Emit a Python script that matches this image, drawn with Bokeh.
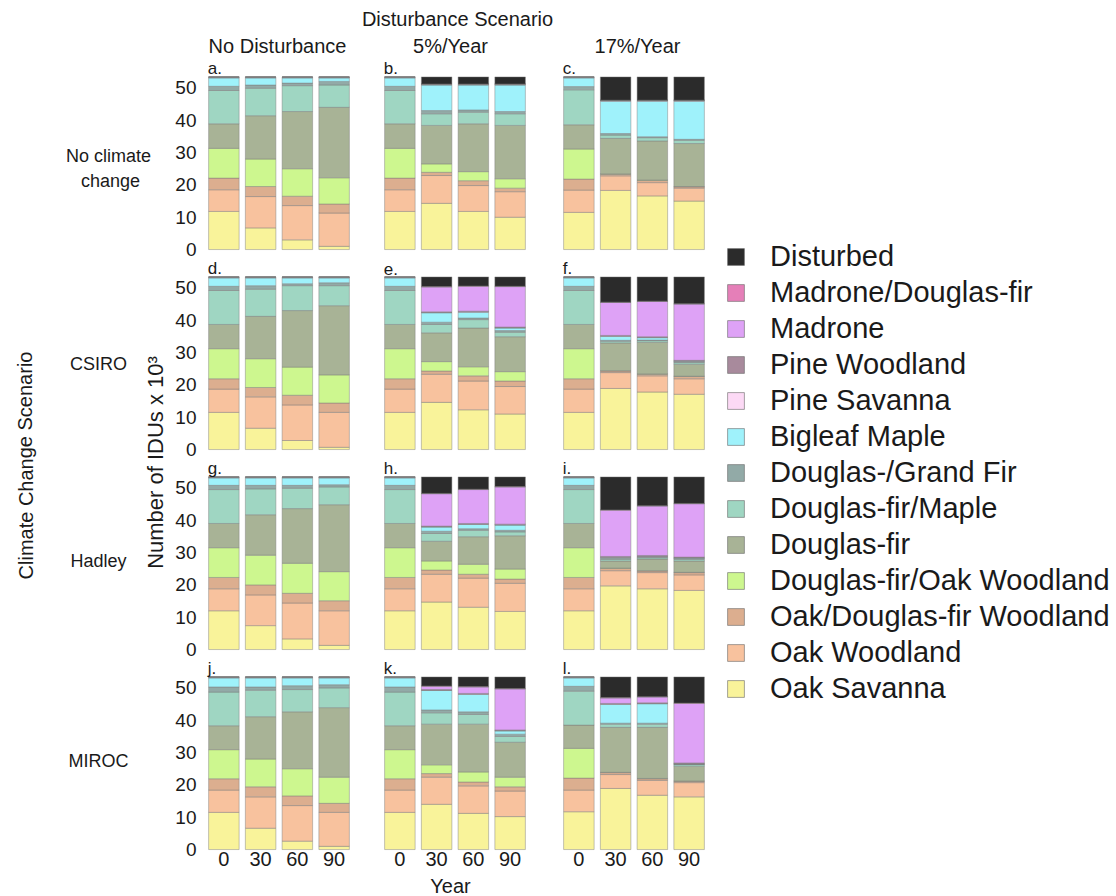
from bokeh.plotting import figure
from bokeh.models import ColumnDataSource, Range1d, FactorRange, FixedTicker, Label, Legend, LegendItem
from bokeh.layouts import row, column
from bokeh.core.properties import value
from bokeh.embed import file_html
from bokeh.resources import INLINE

FONT = "Liberation Sans"
TXT = "#1a1a1a"

years = ["0", "30", "60", "90"]
panel_letters = ["a.", "b.", "c.", "d.", "e.", "f.", "g.", "h.", "i.", "j.", "k.", "l."]
disturbance_scenarios = ["No Disturbance", "5%/Year", "17%/Year"]
climate_scenarios = ["No climate change", "CSIRO", "Hadley", "MIROC"]
y_ticks = [0, 10, 20, 30, 40, 50]

# vegetation classes, bottom of stack to top
classes = ["Oak Savanna", "Oak Woodland", "Oak/Douglas-fir Woodland", "Douglas-fir/Oak Woodland",
           "Douglas-fir", "Douglas-fir/Maple", "Douglas-/Grand Fir", "Bigleaf Maple",
           "Pine Savanna", "Pine Woodland", "Madrone", "Madrone/Douglas-fir", "Disturbed"]
colors = ["#f9f39a", "#f8c29e", "#dcae8f", "#cdf78f",
          "#a8b396", "#9fd6c2", "#92aaa7", "#9ff2fb",
          "#fcd9f5", "#a88a9c", "#dea2f6", "#e57fb8", "#2b2b2b"]

# values (IDUs x 10^3), one list per panel a..l, years 0/30/60/90
oak_savanna = [[11.8, 6.7, 3.0, 1.0], [11.8, 14.3, 11.8, 10.0], [11.5, 18.3, 16.6, 15.0],
               [11.5, 6.6, 2.8, 0.7], [11.5, 14.6, 12.3, 11.0], [11.5, 18.9, 17.8, 17.1],
               [12.0, 7.4, 3.3, 1.3], [12.0, 14.7, 13.1, 11.8], [12.0, 19.7, 18.8, 18.3],
               [11.5, 6.6, 2.6, 1.0], [11.5, 14.0, 11.2, 10.2], [11.7, 18.9, 16.8, 16.3]]
oak_woodland = [[6.7, 9.7, 10.6, 10.3], [6.7, 8.6, 8.0, 7.9], [6.9, 4.5, 4.1, 4.0],
                [7.2, 9.7, 11.0, 10.8], [7.2, 8.7, 8.9, 8.5], [7.2, 4.9, 5.0, 4.8],
                [6.8, 9.5, 11.1, 10.7], [6.8, 8.6, 9.0, 8.7], [6.8, 4.7, 5.0, 4.8],
                [6.9, 9.7, 11.0, 10.5], [6.9, 8.4, 8.5, 7.9], [6.7, 4.3, 4.6, 4.4]]
oak_df_woodland = [[3.6, 3.1, 2.9, 2.8], [3.6, 1.0, 1.5, 1.1], [3.4, 0.5, 0.7, 0.4],
                   [3.2, 2.9, 3.0, 2.9], [3.2, 1.0, 1.6, 1.7], [3.2, 0.5, 0.5, 0.7],
                   [3.5, 3.1, 3.0, 3.1], [3.5, 1.3, 1.2, 1.3], [3.5, 0.7, 0.5, 0.7],
                   [3.5, 3.1, 3.0, 2.8], [3.5, 1.1, 1.2, 1.3], [3.7, 0.6, 0.5, 0.4]]
df_oak_woodland = [[9.2, 8.5, 8.5, 8.1], [9.2, 2.6, 2.8, 2.9], [9.3, 0.1, 0.1, 0.1],
                   [9.3, 8.9, 8.7, 8.7], [9.3, 2.9, 2.8, 2.9], [9.3, 0.1, 0.1, 0.1],
                   [9.2, 9.2, 9.3, 9.0], [9.2, 2.8, 3.1, 3.1], [9.2, 0.1, 0.1, 0.1],
                   [9.0, 8.6, 8.4, 8.1], [9.0, 2.7, 3.1, 3.0], [9.2, 0.1, 0.1, 0.1]]
douglas_fir = [[7.6, 13.4, 17.7, 21.8], [7.6, 11.9, 14.8, 16.5], [7.5, 11.0, 12.1, 13.3],
               [7.5, 13.1, 17.5, 21.4], [7.5, 8.9, 12.0, 10.8], [7.5, 8.6, 9.8, 3.7],
               [7.5, 12.5, 16.9, 20.7], [7.5, 6.1, 8.5, 10.3], [7.5, 2.2, 3.6, 3.5],
               [7.4, 13.1, 17.6, 21.5], [7.4, 12.6, 14.8, 10.8], [7.2, 13.9, 15.8, 4.6]]
df_maple = [[10.3, 8.5, 8.0, 6.9], [10.3, 3.6, 3.6, 3.6], [10.8, 1.0, 1.0, 1.0],
            [10.5, 8.4, 7.7, 6.2], [10.5, 2.6, 2.6, 1.4], [10.5, 0.5, 0.5, 0.5],
            [10.5, 8.0, 6.3, 5.5], [10.5, 2.4, 2.0, 1.2], [10.5, 0.5, 0.4, 0.5],
            [10.4, 8.2, 6.9, 6.1], [10.4, 3.5, 3.0, 1.8], [10.5, 1.0, 1.0, 0.5]]
df_grand_fir = [[1.3, 1.0, 0.8, 1.1], [1.3, 1.0, 0.7, 0.7], [1.0, 0.5, 0.3, 0.3],
                [1.3, 1.1, 0.6, 0.9], [1.3, 0.7, 0.5, 0.5], [1.3, 0.3, 0.2, 0.3],
                [1.3, 1.1, 0.9, 0.7], [1.3, 0.7, 0.5, 0.5], [1.3, 0.5, 0.3, 0.3],
                [1.6, 1.0, 1.2, 1.0], [1.6, 0.9, 0.8, 0.7], [1.5, 0.3, 0.3, 0.2]]
bigleaf_maple = [[2.6, 2.2, 1.6, 1.1], [2.6, 7.9, 7.7, 8.2], [2.7, 10.0, 11.0, 11.8],
                 [2.6, 2.4, 1.8, 1.5], [2.6, 2.9, 1.8, 0.8], [2.6, 1.2, 0.7, 0.1],
                 [2.3, 2.3, 2.3, 2.1], [2.3, 1.3, 1.3, 1.6], [2.3, 0.1, 0.1, 0.1],
                 [2.8, 2.8, 2.4, 2.1], [2.8, 6.0, 5.4, 1.0], [2.6, 5.8, 6.0, 0.0]]
pine_savanna = [[0.1, 0.1, 0.1, 0.1] for _ in range(12)]
pine_woodland = [[0.2, 0.2, 0.2, 0.2] for _ in range(12)]
madrone = [[0, 0, 0, 0], [0, 0, 0, 0], [0, 0, 0, 0],
           [0, 0, 0, 0], [0, 7.7, 7.7, 12.5], [0, 10.2, 10.9, 17.4],
           [0, 0, 0, 0], [0, 10.0, 10.5, 11.5], [0, 14.3, 15.3, 16.5],
           [0, 0, 0, 0], [0, 1.0, 2.0, 12.7], [0, 1.7, 1.8, 18.4]]
madrone_df = [[0, 0, 0, 0], [0, 0, 0, 0], [0, 0, 0, 0],
              [0, 0, 0, 0], [0, 0.1, 0.1, 0.1], [0, 0.1, 0.1, 0.1],
              [0, 0, 0, 0], [0, 0.1, 0.1, 0.1], [0, 0.1, 0.1, 0.1],
              [0, 0, 0, 0], [0, 0.1, 0.1, 0.1], [0, 0.1, 0.1, 0.1]]
disturbed = [[0, 0, 0, 0], [0, 2.2, 2.2, 2.2], [0, 7.2, 7.2, 7.2],
             [0, 0, 0, 0], [0, 3.0, 2.8, 2.9], [0, 7.8, 7.5, 8.3],
             [0, 0, 0, 0], [0, 5.1, 3.8, 3.0], [0, 10.2, 8.9, 8.2],
             [0, 0, 0, 0], [0, 2.8, 3.0, 3.6], [0, 6.4, 6.1, 8.1]]

series = [oak_savanna, oak_woodland, oak_df_woodland, df_oak_woodland, douglas_fir, df_maple,
          df_grand_fir, bigleaf_maple, pine_savanna, pine_woodland, madrone, madrone_df, disturbed]

# ---- layout constants (pixels) ----
COL_W = [194, 178, 172]
COL_BL = [34, 16, 17]
COL_BR = [13, 15, 8]
FRAME_H = 192
ROW_H = 200
BOT_BORDER = 23
BOT_H = FRAME_H + BOT_BORDER
HEAD_H = 59
FOOT_H = 896 - HEAD_H - 3 * ROW_H - BOT_H
LEFT_W = 171
LEG_W = 400
GRID_H = 3 * ROW_H + BOT_H + FOOT_H
Y_TOP = 58.79


def make_panel(i):
    r, c = divmod(i, 3)
    bottom = r == 3
    p = figure(width=COL_W[c], height=BOT_H if bottom else ROW_H,
               x_range=FactorRange(*years), y_range=Range1d(-0.6, Y_TOP),
               output_backend="svg", toolbar_location=None, title=None,
               x_axis_location="below" if bottom else None,
               y_axis_location="left" if c == 0 else None,
               min_border_left=COL_BL[c], min_border_right=COL_BR[c],
               min_border_top=0,
               min_border_bottom=BOT_BORDER if bottom else ROW_H - FRAME_H)
    p.outline_line_color = None
    data = {"year": years}
    for name, s in zip(classes, series):
        data[name] = s[i]
    src = ColumnDataSource(data)
    p.vbar_stack(classes, x="year", width=0.83, source=src, fill_color=colors,
                 line_color="#7a7a7a", line_width=0.6, line_alpha=0.75)
    for ax in list(p.xaxis) + list(p.yaxis):
        ax.axis_line_color = None
        ax.major_tick_line_color = None
        ax.minor_tick_line_color = None
        ax.major_tick_out = 0
        ax.major_tick_in = 0
        ax.minor_tick_out = 0
        ax.major_label_text_font = FONT
        ax.major_label_text_color = TXT
    for ax in p.xaxis:
        ax.major_label_standoff = 0
        ax.major_label_text_font_size = "20px"
    for ax in p.yaxis:
        ax.ticker = FixedTicker(ticks=y_ticks)
        ax.major_label_standoff = 9
        ax.major_label_text_font_size = "19px"
    p.xgrid.visible = False
    p.ygrid.visible = False
    p.add_layout(Label(x=0.06, y=56.0, text=panel_letters[i], text_font=FONT,
                       text_font_size="17px", text_baseline="middle", text_align="left",
                       text_color=TXT))
    return p


def blank(w, h):
    f = figure(width=w, height=h, x_range=Range1d(0, w), y_range=Range1d(h, 0),
               output_backend="svg", toolbar_location=None, title=None,
               x_axis_location=None, y_axis_location=None, min_border=0)
    f.outline_line_color = None
    f.xgrid.visible = False
    f.ygrid.visible = False
    return f


def txt(f, x, y, s, size="20px", angle=0.0):
    f.text(x=[x], y=[y], text=[s], angle=angle, text_font=value(FONT),
           text_font_size=value(size), text_align="center", text_baseline="middle",
           text_color=TXT)


panels = [make_panel(i) for i in range(12)]

# footer with the x-axis title
foot = blank(sum(COL_W), FOOT_H)
txt(foot, 279, FOOT_H / 2, "Year")

grid = column(*[row(*panels[3 * r:3 * r + 3]) for r in range(4)], foot)

# header
head = blank(LEFT_W + sum(COL_W) + LEG_W, HEAD_H)
txt(head, 457, 18, "Disturbance Scenario")
head_x = [277, 450, 637]
for hx, s in zip(head_x, disturbance_scenarios):
    txt(head, hx, 45, s)

# left labels (y measured from the top of the panel grid)
left = blank(LEFT_W, GRID_H)
txt(left, 25, 406, "Climate Change Scenario", angle=1.5708)
txt(left, 155, 403, "Number of IDUs x 10\u00b3", size="22px", angle=1.5708)
txt(left, 108, 96, "No climate", size="18px")
txt(left, 110, 121, "change", size="18px")
for ry, s in zip([304, 501, 701], climate_scenarios[1:]):
    txt(left, 98, ry, s, size="18px")

# legend
leg = figure(width=LEG_W, height=GRID_H, x_range=Range1d(0, 1), y_range=Range1d(0, 1),
             output_backend="svg", toolbar_location=None, title=None,
             x_axis_location=None, y_axis_location=None, min_border=0)
leg.outline_line_color = None
leg.xgrid.visible = False
leg.ygrid.visible = False
items = []
for name, col in zip(classes, colors):
    rr = leg.vbar(x=[5.0], top=[5.0], bottom=[4.0], width=0.5, fill_color=col,
                  line_color="#666666", line_width=0.6)
    items.append(LegendItem(label=name, renderers=[rr]))
items = items[::-1]
legend = Legend(items=items, location=(10, 191), orientation="vertical",
                glyph_width=21, glyph_height=21, label_standoff=24, spacing=3,
                padding=0, margin=0, border_line_color=None, background_fill_alpha=0,
                label_text_font=FONT, label_text_font_size="29px", label_text_color=TXT)
leg.add_layout(legend)

layout = column(head, row(left, grid, leg))

open("out.html", "w").write(file_html(layout, INLINE))
